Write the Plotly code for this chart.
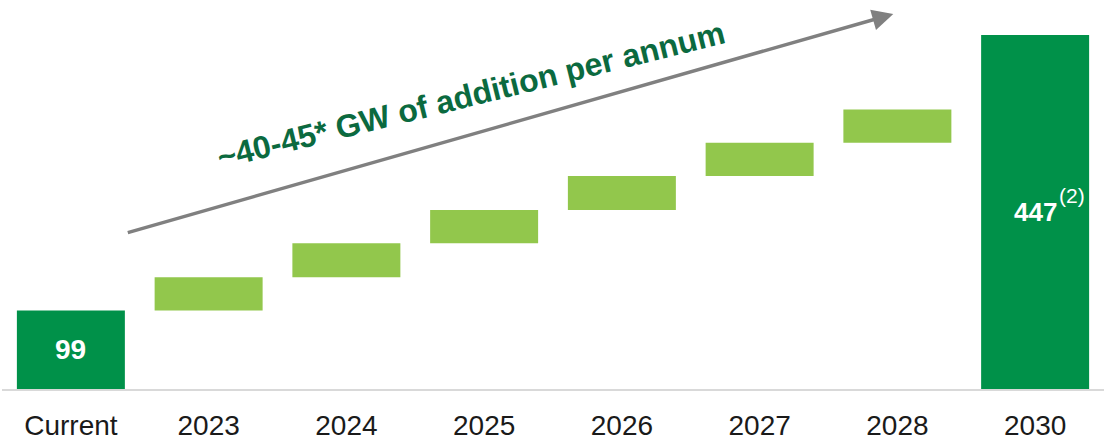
import plotly.graph_objects as go

categories = ["Current", "2023", "2024", "2025", "2026", "2027", "2028", "2030"]
start_value = 99
annual_additions = [42, 43, 42, 43, 42, 42]
target_value = 447
bar_labels = ["99", "", "", "", "", "", "", "447"]
footnotes = ["", "", "", "", "", "", "", "(2)"]
label_sizes = [28, 0, 0, 0, 0, 0, 0, 26]

dark_green = "#009149"
light_green = "#92C74C"

# build bases/heights
bases = [0]
heights = [start_value]
cum = start_value
for a in annual_additions:
    bases.append(cum)
    heights.append(a)
    cum += a
bases.append(0)
heights.append(target_value)
colors = [dark_green] + [light_green] * len(annual_additions) + [dark_green]

fig = go.Figure()
fig.add_trace(go.Bar(
    x=categories, y=heights, base=bases,
    marker=dict(color=colors, line=dict(width=0)),
    hoverinfo="skip",
))

for i, lab in enumerate(bar_labels):
    if lab:
        fig.add_annotation(
            x=i, y=bases[i] + heights[i] / 2, xref="x", yref="y",
            text="<b>" + lab + "</b>", showarrow=False,
            font=dict(family="Liberation Sans", size=label_sizes[i], color="white"),
        )
    if footnotes[i]:
        fig.add_annotation(
            x=i, y=bases[i] + heights[i] / 2, xref="x", yref="y",
            text=footnotes[i], showarrow=False,
            font=dict(family="Liberation Sans", size=21, color="white"),
            xshift=37, yshift=16,
        )

# trend arrow
fig.add_annotation(
    x=0.8088, y=0.9894, xref="paper", yref="paper",
    ax=-767, ay=219, axref="pixel", ayref="pixel",
    text="", showarrow=True, arrowhead=2, arrowsize=1.2,
    arrowwidth=3.5, arrowcolor="#808080", standoff=0,
)
fig.add_annotation(
    x=0.4256, y=0.7757, xref="paper", yref="paper",
    xanchor="center", yanchor="middle",
    text="<b>~40-45* GW of addition per annum</b>", showarrow=False,
    textangle=-14,
    font=dict(family="Liberation Sans", size=32, color="#0B6A3F"),
)

fig.update_layout(
    width=1104, height=438,
    margin=dict(l=2, r=0, t=10, b=49, autoexpand=False),
    paper_bgcolor="white", plot_bgcolor="white",
    bargap=0.216, showlegend=False,
    xaxis=dict(
        type="category", automargin=False,
        range=[-0.5, len(categories) - 0.5],
        showgrid=False, zeroline=False, showline=True,
        linecolor="#d9d9d9", linewidth=2,
        tickfont=dict(family="Liberation Sans", size=28, color="#1a1a1a"),
        ticks="", ticklabelstandoff=10, fixedrange=True,
    ),
    yaxis=dict(range=[0, 478.5], visible=False, fixedrange=True),
)

fig.write_html(
    "out.html",
    config={"displayModeBar": False},
    post_script="document.body.style.margin='0';",
)
